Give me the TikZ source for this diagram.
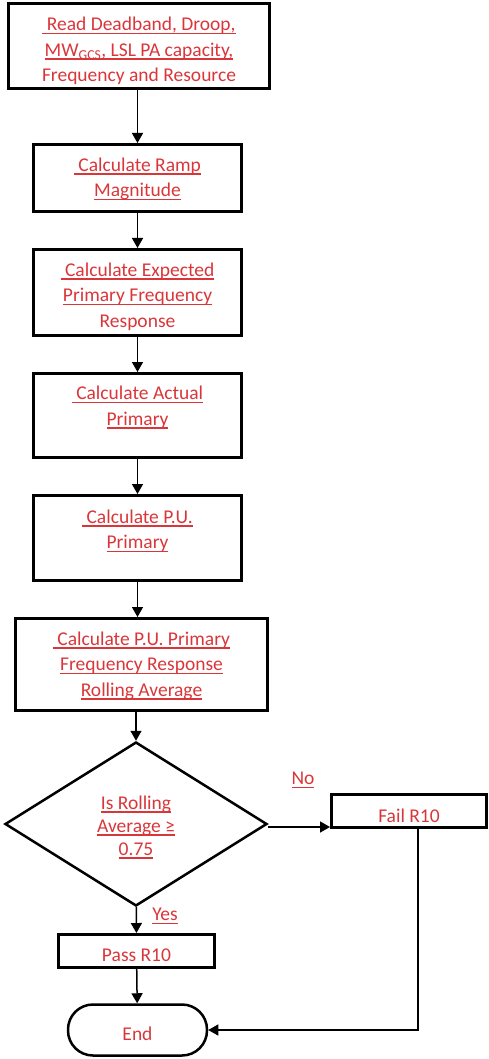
\documentclass[tikz,border=0pt]{standalone}
\usepackage{fontspec}
\setmainfont{Carlito}
\newcommand{\ulbar}[1]{\setbox0\hbox{#1}\leavevmode\rlap{\rule[-3.5pt]{\wd0}{1.3pt}}\box0}
\usetikzlibrary{arrows.meta,
                positioning,
                shapes.geometric
            }
\definecolor{linkred}{RGB}{218,54,58}
\tikzset{
    stepbox/.style={draw, line width=3pt, inner sep=0pt},
    decide/.style={draw, diamond, line width=2.5pt, inner sep=0pt},
    steptext/.style={align=center, inner sep=0pt, text=linkred,
        font=\fontsize{19.5}{25.5}\selectfont, yshift=#1},
    steptext/.default=-4pt,
    flowlabel/.style={text=linkred, font=\fontsize{19.5}{25.5}\selectfont},
    flow/.style={line width=1.5pt, -{Triangle[width=11pt,length=10pt]}}
}

\begin{document}
\begin{tikzpicture}[x=1pt, y=-1pt]
            \useasboundingbox (0, 0) rectangle (489, 1059);
            \node[stepbox, minimum width=261, minimum height=85,
                label={[steptext=-5pt]center:{\ulbar{~Read Deadband, Droop,}\\\ulbar{MW\textsubscript{GCS}, LSL PA capacity,}\\Frequency and Resource}}]
                (read) at (139, 46) {};
            \node[stepbox, minimum width=208, minimum height=67,
                label={[steptext=-1pt]center:{\ulbar{~Calculate Ramp}\\\ulbar{Magnitude}}}]
                (ramp) at (137.5, 178) {};
            \node[stepbox, minimum width=208, minimum height=86,
                label={[steptext]center:{\ulbar{~Calculate Expected}\\\ulbar{Primary Frequency}\\Response}}]
                (expected) at (137.5, 292.5) {};
            \node[stepbox, minimum width=208, minimum height=84,
                label={[steptext=-3pt]center:{\ulbar{~Calculate Actual}\\\ulbar{Primary}\\\mbox{}}}]
                (actual) at (137.5, 415.5) {};
            \node[stepbox, minimum width=208, minimum height=85,
                label={[steptext]center:{\ulbar{~Calculate P.U.}\\\ulbar{Primary}\\\mbox{}}}]
                (pu) at (137.5, 538) {};
            \node[stepbox, minimum width=252, minimum height=92,
                label={[steptext=-1pt]center:{\ulbar{~Calculate P.U. Primary}\\\ulbar{Frequency Response}\\\ulbar{Rolling Average}}}]
                (rolling) at (141.5, 664.5) {};
            \node[decide, minimum width=262, minimum height=164,
                label={[steptext=-3pt, font=\fontsize{19.5}{23}\selectfont]center:{\ulbar{Is Rolling}\\\ulbar{Average ≥}\\\ulbar{0.75}}}]
                (check) at (136, 824) {};
            \node[stepbox, minimum width=155, minimum height=33,
                label={[steptext=-5pt]center:Fail R10}] (fail) at (409, 811) {};
            \node[stepbox, minimum width=156, minimum height=33,
                label={[steptext]center:Pass R10}] (pass) at (136.5, 951) {};
            \node[stepbox, line width=2.5pt, rounded corners=25, minimum width=139, minimum height=51,
                label={[steptext]center:End}] (end) at (137.5, 1030) {};
            \node[flowlabel] (no) at (303, 780) {\ulbar{No}};
            \node[flowlabel] (yes) at (165, 916) {\ulbar{Yes}};
            \coordinate (failout) at ([xshift=9]fail.south);
            \draw[flow] (read.south -| ramp.north) -- (ramp.north);
            \draw[flow] (ramp) -- (expected);
            \draw[flow] (expected) -- (actual);
            \draw[flow] (actual) -- (pu);
            \draw[flow] (pu.south) -- (pu.south |- rolling.north);
            \draw[flow] (rolling.south -| check.north) -- (check.north);
            \draw[flow] ([yshift=-3]check.east) -- ([yshift=-3]check.east -| fail.west);
            \draw[flow] (check) -- (pass);
            \draw[flow] (pass) -- (end);
            \draw[flow, line width=1.2pt] (failout) |- (end.east);
        \end{tikzpicture}
\end{document}
